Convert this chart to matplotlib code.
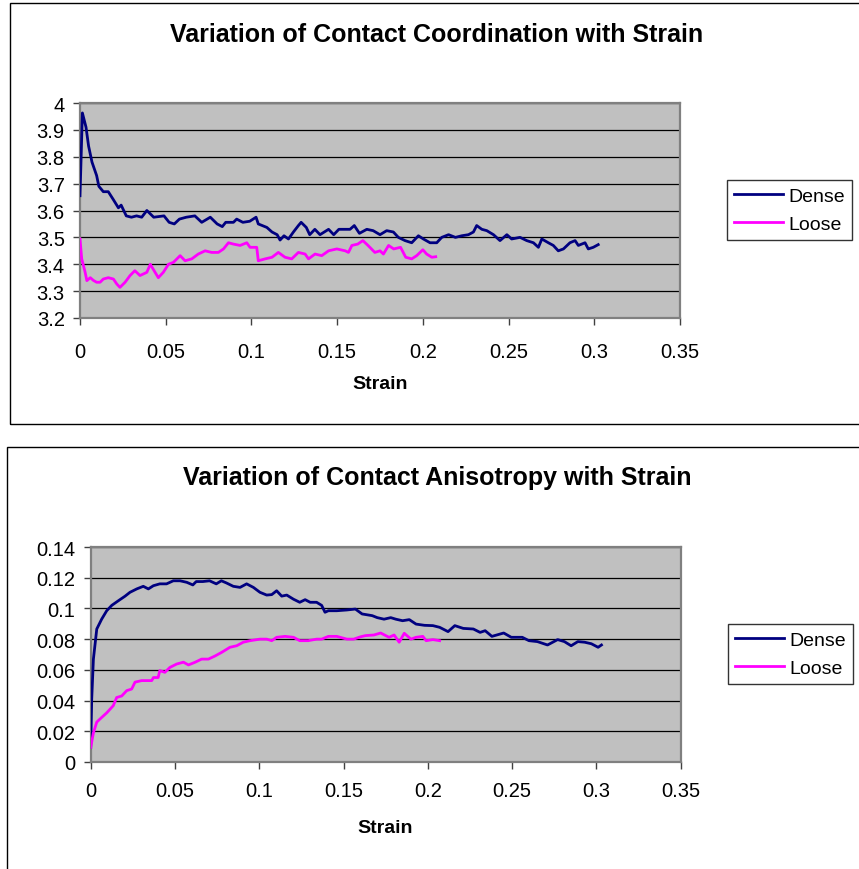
import matplotlib
matplotlib.use("Agg")
import matplotlib.pyplot as plt
from matplotlib.patches import Rectangle

plt.rcParams["font.family"] = ["Liberation Sans", "DejaVu Sans"]

# coordination number vs strain
coord_dense_x = [0, 0.0014, 0.0035, 0.005, 0.007, 0.0097, 0.011, 0.0136, 0.0165, 0.0195,
                 0.0224, 0.024, 0.027, 0.030, 0.033, 0.036, 0.039, 0.043, 0.049, 0.052,
                 0.055, 0.058, 0.062, 0.067, 0.071, 0.076, 0.080, 0.083, 0.085, 0.0895,
                 0.0914, 0.095, 0.099, 0.1027, 0.104, 0.109, 0.112, 0.115, 0.1167, 0.119,
                 0.1216, 0.1245, 0.1274, 0.129, 0.132, 0.134, 0.137, 0.140, 0.145, 0.148,
                 0.151, 0.155, 0.1575, 0.160, 0.163, 0.1673, 0.171, 0.175, 0.1789, 0.1828,
                 0.1857, 0.1896, 0.1935, 0.1974, 0.2003, 0.2042, 0.2081, 0.211, 0.215, 0.219,
                 0.2227, 0.2266, 0.2295, 0.2314, 0.2344, 0.2373, 0.2412, 0.245, 0.249, 0.2518,
                 0.2567, 0.2606, 0.2645, 0.2674, 0.2694, 0.2732, 0.2761, 0.279, 0.282, 0.2858,
                 0.2888, 0.2907, 0.2946, 0.2965, 0.2994, 0.3023]
coord_dense_y = [3.655, 3.963, 3.91, 3.84, 3.78, 3.73, 3.69, 3.67, 3.67, 3.64,
                 3.61, 3.62, 3.58, 3.575, 3.58, 3.575, 3.60, 3.575, 3.58, 3.556,
                 3.55, 3.568, 3.575, 3.58, 3.556, 3.575, 3.55, 3.54, 3.556, 3.556,
                 3.568, 3.556, 3.56, 3.575, 3.55, 3.537, 3.52, 3.51, 3.49, 3.506,
                 3.494, 3.52, 3.544, 3.556, 3.537, 3.51, 3.53, 3.51, 3.53, 3.51,
                 3.53, 3.53, 3.53, 3.544, 3.515, 3.53, 3.525, 3.51, 3.525, 3.52,
                 3.50, 3.488, 3.48, 3.506, 3.494, 3.48, 3.48, 3.50, 3.51, 3.50,
                 3.506, 3.51, 3.52, 3.544, 3.53, 3.525, 3.51, 3.488, 3.51, 3.494,
                 3.50, 3.488, 3.48, 3.463, 3.494, 3.48, 3.47, 3.45, 3.457, 3.48,
                 3.488, 3.47, 3.48, 3.457, 3.463, 3.473]
coord_loose_x = [0, 0.001, 0.003, 0.004, 0.006, 0.0078, 0.0097, 0.0117, 0.0136, 0.0165,
                 0.0195, 0.0214, 0.0233, 0.0263, 0.0292, 0.032, 0.035, 0.039, 0.041, 0.0438,
                 0.0457, 0.0486, 0.0516, 0.0545, 0.0584, 0.0613, 0.0652, 0.069, 0.073, 0.0768,
                 0.0807, 0.0837, 0.0866, 0.0895, 0.0934, 0.0973, 0.0992, 0.1031, 0.104, 0.108,
                 0.112, 0.1157, 0.1196, 0.1235, 0.1274, 0.1313, 0.1333, 0.1371, 0.141, 0.145,
                 0.1498, 0.1547, 0.1566, 0.1586, 0.162, 0.165, 0.168, 0.172, 0.175, 0.177,
                 0.180, 0.183, 0.187, 0.19, 0.1935, 0.1964, 0.20, 0.2022, 0.2052, 0.2075]
coord_loose_y = [3.494, 3.42, 3.37, 3.339, 3.35, 3.34, 3.333, 3.333, 3.345, 3.35,
                 3.345, 3.327, 3.314, 3.333, 3.358, 3.376, 3.358, 3.37, 3.40, 3.37,
                 3.35, 3.37, 3.40, 3.407, 3.432, 3.413, 3.42, 3.438, 3.45, 3.444,
                 3.444, 3.457, 3.48, 3.475, 3.47, 3.48, 3.463, 3.463, 3.413, 3.42,
                 3.426, 3.444, 3.426, 3.42, 3.444, 3.438, 3.42, 3.438, 3.432, 3.45,
                 3.457, 3.45, 3.444, 3.47, 3.475, 3.488, 3.47, 3.444, 3.45, 3.438,
                 3.47, 3.457, 3.463, 3.426, 3.42, 3.432, 3.454, 3.438, 3.426, 3.428]

# contact anisotropy vs strain
aniso_dense_x = [0, 0.0006, 0.0016, 0.0036, 0.0065, 0.0095, 0.0125, 0.0164, 0.0204, 0.0233,
                 0.0273, 0.0312, 0.0342, 0.0372, 0.041, 0.045, 0.049, 0.053, 0.057, 0.0606,
                 0.0626, 0.0665, 0.0705, 0.0745, 0.0775, 0.0805, 0.0846, 0.0886, 0.0925, 0.0965,
                 0.1004, 0.1044, 0.1074, 0.1103, 0.1133, 0.1163, 0.1203, 0.124, 0.1272, 0.1302,
                 0.134, 0.137, 0.139, 0.141, 0.146, 0.152, 0.157, 0.161, 0.167, 0.170,
                 0.174, 0.178, 0.181, 0.185, 0.189, 0.193, 0.198, 0.203, 0.207, 0.212,
                 0.216, 0.221, 0.227, 0.231, 0.234, 0.238, 0.245, 0.2495, 0.256, 0.260,
                 0.265, 0.271, 0.277, 0.281, 0.285, 0.289, 0.293, 0.297, 0.301, 0.303]
aniso_dense_y = [0.0095, 0.041, 0.067, 0.0866, 0.093, 0.0985, 0.102, 0.105, 0.108, 0.1105,
                 0.1127, 0.1144, 0.1127, 0.1148, 0.116, 0.116, 0.118, 0.118, 0.117, 0.1153,
                 0.1175, 0.1175, 0.118, 0.116, 0.118, 0.1166, 0.1144, 0.1137, 0.116, 0.1137,
                 0.1105, 0.1087, 0.109, 0.1115, 0.108, 0.1087, 0.106, 0.104, 0.1057, 0.104,
                 0.104, 0.102, 0.0975, 0.0985, 0.0985, 0.099, 0.0996, 0.0964, 0.0953, 0.094,
                 0.093, 0.094, 0.093, 0.092, 0.0927, 0.0898, 0.089, 0.0888, 0.0877, 0.0849,
                 0.0888, 0.087, 0.0866, 0.0844, 0.0855, 0.0818, 0.084, 0.0812, 0.0812, 0.079,
                 0.0784, 0.0762, 0.0797, 0.0784, 0.0757, 0.0784, 0.078, 0.077, 0.0747, 0.0762]
aniso_loose_x = [0, 0.0016, 0.0036, 0.0065, 0.0095, 0.0134, 0.0154, 0.0184, 0.0214, 0.0243,
                 0.0263, 0.0302, 0.0332, 0.0362, 0.0372, 0.040, 0.041, 0.044, 0.047, 0.051,
                 0.055, 0.058, 0.062, 0.0658, 0.0698, 0.0737, 0.0777, 0.0826, 0.0866, 0.0905,
                 0.0945, 0.1004, 0.1044, 0.1074, 0.1103, 0.1153, 0.1203, 0.124, 0.129, 0.134,
                 0.137, 0.141, 0.146, 0.152, 0.156, 0.160, 0.163, 0.168, 0.172, 0.177,
                 0.180, 0.183, 0.186, 0.190, 0.193, 0.197, 0.199, 0.203, 0.207]
aniso_loose_y = [0.0095, 0.019, 0.026, 0.029, 0.032, 0.0367, 0.042, 0.043, 0.0465, 0.0475,
                 0.052, 0.053, 0.053, 0.053, 0.055, 0.055, 0.0595, 0.0584, 0.0616, 0.0638,
                 0.065, 0.0632, 0.065, 0.067, 0.067, 0.069, 0.0714, 0.0747, 0.0757, 0.078,
                 0.079, 0.080, 0.080, 0.079, 0.0812, 0.0818, 0.0812, 0.079, 0.079, 0.080,
                 0.080, 0.0818, 0.0818, 0.080, 0.080, 0.0815, 0.0823, 0.0827, 0.084, 0.0812,
                 0.0827, 0.078, 0.0838, 0.080, 0.0812, 0.0818, 0.079, 0.0797, 0.079]

x_ticks = [0, 0.05, 0.1, 0.15, 0.2, 0.25, 0.3, 0.35]
x_ticklabels = ["0", "0.05", "0.1", "0.15", "0.2", "0.25", "0.3", "0.35"]
coord_ticks = [3.2, 3.3, 3.4, 3.5, 3.6, 3.7, 3.8, 3.9, 4.0]
coord_ticklabels = ["3.2", "3.3", "3.4", "3.5", "3.6", "3.7", "3.8", "3.9", "4"]
aniso_ticks = [0, 0.02, 0.04, 0.06, 0.08, 0.1, 0.12, 0.14]
aniso_ticklabels = ["0", "0.02", "0.04", "0.06", "0.08", "0.1", "0.12", "0.14"]

W, H = 859, 870
fig = plt.figure(figsize=(W / 100, H / 100), dpi=100)


def px_rect(x0, y0, x1, y1):
    return [x0 / W, 1 - y1 / H, (x1 - x0) / W, (y1 - y0) / H]


# chart frames
for x0, y0, x1, y1 in [(10, 4, 880, 425), (7, 448, 880, 900)]:
    fig.add_artist(Rectangle((x0 / W, 1 - y1 / H), (x1 - x0) / W, (y1 - y0) / H,
                             transform=fig.transFigure, fill=False,
                             edgecolor="black", linewidth=1.0, clip_on=False))


def style_axes(ax, yticks, ylabels, ylim, xpad):
    ax.set_facecolor("#C0C0C0")
    ax.set_xlim(0, 0.35)
    ax.set_ylim(*ylim)
    ax.set_xticks(x_ticks)
    ax.set_xticklabels(x_ticklabels)
    ax.set_yticks(yticks)
    ax.set_yticklabels(ylabels)
    ax.grid(axis="y", color="black", linewidth=0.9, zorder=1)
    ax.set_axisbelow(True)
    for s in ax.spines.values():
        s.set_color("#808080")
        s.set_linewidth(1.6)
    ax.tick_params(axis="both", direction="out", length=5, width=1.0,
                   color="#404040", labelsize=14.5)
    ax.tick_params(axis="y", pad=6)
    ax.tick_params(axis="x", pad=xpad)


def add_legend(ax, cx, cy):
    leg = ax.legend(loc="center", bbox_to_anchor=(cx / W, 1 - cy / H),
                    bbox_transform=fig.transFigure, fontsize=14,
                    frameon=True, fancybox=False, handlelength=2.5,
                    borderpad=0.35, labelspacing=0.55, handletextpad=0.3,
                    borderaxespad=0)
    leg.get_frame().set_edgecolor("black")
    leg.get_frame().set_linewidth(1.0)


# top chart
ax1 = fig.add_axes(px_rect(80, 104, 680, 319))
ax1.plot(coord_dense_x, coord_dense_y, color="#000080", lw=2.0, label="Dense", zorder=3)
ax1.plot(coord_loose_x, coord_loose_y, color="#FF00FF", lw=2.0, label="Loose", zorder=3)
style_axes(ax1, coord_ticks, coord_ticklabels, (3.2, 4.0), 12)
add_legend(ax1, 789.5, 211)
fig.text(437 / W, 1 - 35 / H, "Variation of Contact Coordination with Strain",
         ha="center", va="center", fontsize=18, fontweight="bold")
fig.text(380 / W, 1 - 385 / H, "Strain", ha="center", va="center",
         fontsize=14, fontweight="bold")

# bottom chart
ax2 = fig.add_axes(px_rect(90.7, 548, 680.7, 763))
ax2.plot(aniso_dense_x, aniso_dense_y, color="#000080", lw=2.0, label="Dense", zorder=3)
ax2.plot(aniso_loose_x, aniso_loose_y, color="#FF00FF", lw=2.0, label="Loose", zorder=3)
style_axes(ax2, aniso_ticks, aniso_ticklabels, (0, 0.14), 9)
add_legend(ax2, 790.5, 655)
fig.text(437 / W, 1 - 478 / H, "Variation of Contact Anisotropy with Strain",
         ha="center", va="center", fontsize=18, fontweight="bold")
fig.text(385 / W, 1 - 829 / H, "Strain", ha="center", va="center",
         fontsize=14, fontweight="bold")

fig.savefig("out.png", dpi=100)
